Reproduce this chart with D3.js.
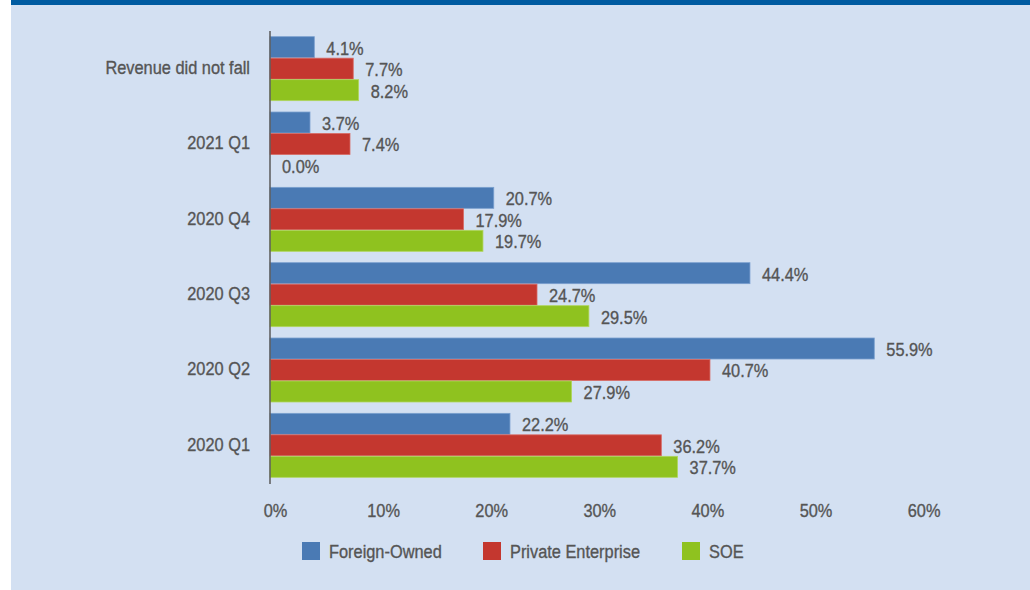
<!DOCTYPE html>
<html>
<head>
<meta charset="utf-8">
<script src="https://cdn.jsdelivr.net/npm/d3@7"></script>
<style>
  html, body { margin: 0; padding: 0; background: #ffffff; }
  svg { display: block; }
  text { font-family: "Liberation Sans", Arial, sans-serif; fill: #555555; stroke: #555555; stroke-width: 0.35px; }
</style>
</head>
<body>
<svg id="chart" width="1030" height="590"></svg>
<script>
// Share of firms by the quarter in which revenue first fell, by ownership type
const categories = ["Revenue did not fall", "2021 Q1", "2020 Q4", "2020 Q3", "2020 Q2", "2020 Q1"];
const seriesNames = ["Foreign-Owned", "Private Enterprise", "SOE"];
const foreignOwned = [4.1, 3.7, 20.7, 44.4, 55.9, 22.2];
const privateEnterprise = [7.7, 7.4, 17.9, 24.7, 40.7, 36.2];
const soe = [8.2, 0.0, 19.7, 29.5, 27.9, 37.7];
const xTicks = [0, 10, 20, 30, 40, 50, 60];

const seriesValues = [foreignOwned, privateEnterprise, soe];
const colors = ["#4a7ab4", "#c4372f", "#8fc21f"];
const strokes = ["#7a9fcf", "#d86a64", "#b0d65e"];

const W = 1030, H = 590;
const FONT = 18.5, SX = 0.885;   // condensed look

const svg = d3.select("#chart");

// panel background, header rule
svg.append("rect").attr("x", 11).attr("y", 0).attr("width", W - 11).attr("height", H).attr("fill", "#d3e0f2");
svg.append("rect").attr("x", 11).attr("y", 0).attr("width", W - 11).attr("height", 5).attr("fill", "#005ba1");

const x = d3.scaleLinear().domain([0, 60]).range([270, 918.6]);
const y = d3.scaleBand().domain(categories).range([31, 483]).paddingInner(0.144).paddingOuter(0.072);
const ySub = d3.scaleBand().domain(d3.range(seriesNames.length)).range([0, y.bandwidth()]).padding(0);

const rows = categories.map((c, i) => ({
  cat: c,
  vals: seriesValues.map((arr, s) => ({ s, v: arr[i] }))
}));

const groups = svg.append("g").selectAll("g").data(rows).join("g")
  .attr("transform", d => `translate(0,${y(d.cat)})`);

groups.selectAll("rect").data(d => d.vals).join("rect")
  .attr("x", x(0))
  .attr("y", d => ySub(d.s) + 0.25)
  .attr("width", d => Math.max(0, x(d.v) - x(0)))
  .attr("height", ySub.bandwidth() - 0.5)
  .attr("fill", d => colors[d.s])
  .attr("stroke", d => d.v > 0 ? strokes[d.s] : "none")
  .attr("stroke-width", 0.8);

groups.selectAll("text").data(d => d.vals).join("text")
  .attr("transform", d => `translate(${x(d.v) + 12},${ySub(d.s) + ySub.bandwidth() / 2 + 1}) scale(${SX},1)`)
  .attr("dominant-baseline", "central")
  .attr("font-size", FONT)
  .text(d => d.v.toFixed(1) + "%");

// category axis
const yAxis = svg.append("g").attr("transform", `translate(${x(0)},0)`)
  .call(d3.axisLeft(y).tickSize(0).tickPadding(20));
yAxis.select(".domain").attr("stroke", "#5a5a5a").attr("stroke-width", 1.5).attr("d", "M0,31V484");
yAxis.selectAll(".tick text")
  .attr("font-family", null).attr("fill", null)
  .attr("font-size", FONT)
  .attr("dy", null)
  .attr("dominant-baseline", "central")
  .attr("x", null)
  .attr("transform", `translate(-20,-1) scale(${SX},1)`);

// value axis labels
const xAxis = svg.append("g").attr("transform", `translate(0,483)`)
  .call(d3.axisBottom(x).tickValues(xTicks).tickSize(0).tickFormat(d => d + "%"));
xAxis.select(".domain").remove();
xAxis.selectAll(".tick text")
  .attr("font-family", null).attr("fill", null)
  .attr("font-size", FONT)
  .attr("dy", null)
  .attr("y", null)
  .attr("transform", `translate(5,34) scale(${SX},1)`);

// legend
const legendX = [302, 483, 682];
const legend = svg.append("g").selectAll("g").data(seriesNames).join("g")
  .attr("transform", (d, i) => `translate(${legendX[i]},542)`);
legend.append("rect").attr("width", 18).attr("height", 18).attr("fill", (d, i) => colors[i]);
legend.append("text")
  .attr("transform", `translate(27,16) scale(${SX},1)`)
  .attr("font-size", FONT)
  .text(d => d);
</script>
</body>
</html>
